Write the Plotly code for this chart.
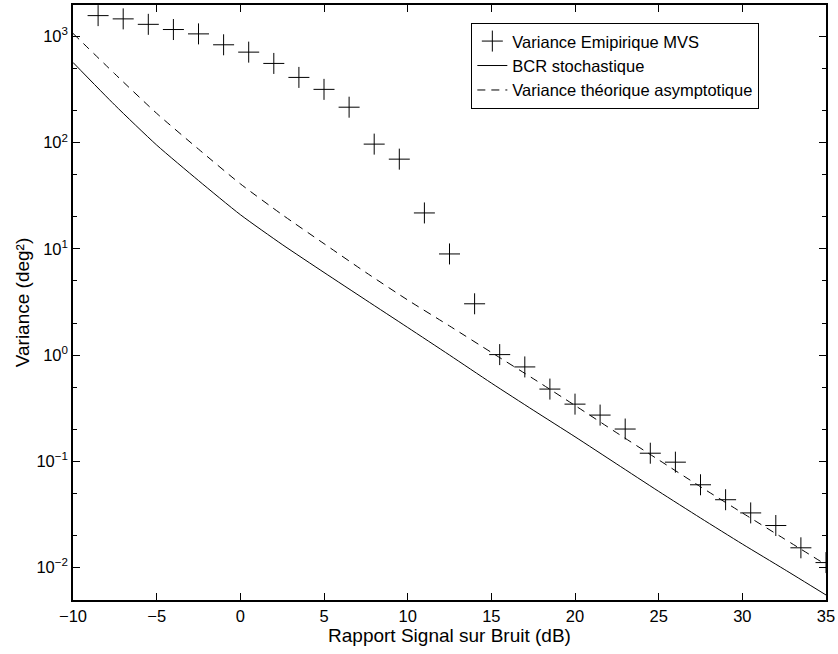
import plotly.graph_objects as go

# Empirical MVS variance (markers)
snr_emp = [-8.5, -7, -5.5, -4, -2.5, -1, 0.5, 2, 3.5, 5, 6.5, 8, 9.5, 11, 12.5,
           14, 15.5, 17, 18.5, 20, 21.5, 23, 24.5, 26, 27.5, 29, 30.5, 32, 33.5, 35]
var_emp = [1574, 1466, 1303, 1164, 1059, 836, 713, 558, 412, 318, 216, 97, 70, 21.8, 8.96,
           3.04, 1.01, 0.773, 0.478, 0.345, 0.272, 0.201, 0.119, 0.098, 0.060, 0.0434,
           0.0326, 0.0248, 0.0153, 0.0111]

# Curves
snr_curve = [-10, -7.5, -5, -2.5, 0, 2.5, 5, 7.5, 10, 12.5, 15, 17.5, 20, 22.5, 25,
             27.5, 30, 32.5, 35]
bcr = [570, 226, 95, 44, 21, 11, 6.0, 3.3, 1.82, 1.0, 0.545, 0.303, 0.17, 0.094, 0.052,
       0.0292, 0.0166, 0.0096, 0.0055]
var_theo = [1070, 445, 189, 87, 41, 21, 11.2, 6.0, 3.3, 1.88, 1.06, 0.60, 0.335, 0.185,
            0.103, 0.0575, 0.0326, 0.0186, 0.0106]

x_ticks = [-10, -5, 0, 5, 10, 15, 20, 25, 30, 35]
x_tick_text = ["\u221210", "\u22125", "0", "5", "10", "15", "20", "25", "30", "35"]
y_ticks = [0.01, 0.1, 1, 10, 100, 1000]
y_tick_text = ["10<sup>\u22122</sup>", "10<sup>\u22121</sup>", "10<sup>0</sup>",
               "10<sup>1</sup>", "10<sup>2</sup>", "10<sup>3</sup>"]

font_family = "Liberation Sans, Arial, Helvetica, sans-serif"

fig = go.Figure()
fig.add_trace(go.Scatter(
    x=snr_emp, y=var_emp, mode="markers", name="Variance Emipirique MVS",
    marker=dict(symbol="cross-thin", size=15, line=dict(color="black", width=1), color="black"),
))
fig.add_trace(go.Scatter(
    x=snr_curve, y=bcr, mode="lines", name="BCR stochastique",
    line=dict(color="black", width=1, shape="spline", smoothing=0.6),
))
fig.add_trace(go.Scatter(
    x=snr_curve, y=var_theo, mode="lines", name="Variance th\u00e9orique asymptotique",
    line=dict(color="black", width=1, dash="8px,6px", shape="spline", smoothing=0.6),
))

fig.update_layout(
    width=838, height=654,
    margin=dict(l=73, r=9, t=3, b=54),
    paper_bgcolor="white", plot_bgcolor="white",
    font=dict(family=font_family, size=17, color="black"),
    showlegend=True,
    legend=dict(
        x=0.529, y=0.970, xanchor="left", yanchor="top",
        bgcolor="white", bordercolor="black", borderwidth=1,
        font=dict(size=16.5), tracegroupgap=0, itemwidth=30,
    ),
    xaxis=dict(
        range=[-10, 35], tickvals=x_ticks, ticktext=x_tick_text,
        ticks="inside", ticklen=7, tickcolor="black", tickwidth=1,
        showline=True, linecolor="black", linewidth=1.5, mirror="ticks",
        showgrid=False, zeroline=False, ticklabeloverflow="allow",
        tickfont=dict(size=16.5),
        title=dict(text="Rapport Signal sur Bruit (dB)", font=dict(size=19), standoff=4),
    ),
    yaxis=dict(
        type="log", range=[-2.307, 3.297], tickvals=y_ticks, ticktext=y_tick_text,
        ticks="inside", ticklen=7, tickcolor="black", tickwidth=1,
        showline=True, linecolor="black", linewidth=1.5, mirror="ticks",
        showgrid=False, zeroline=False,
        tickfont=dict(size=16.5),
        minor=dict(ticks="inside", ticklen=4, tickcolor="black", showgrid=False),
        title=dict(text="Variance (deg\u00b2)", font=dict(size=19), standoff=2),
    ),
)

fig.write_html(
    "out.html",
    config={"displayModeBar": False},
    post_script="document.body.style.margin='0';document.body.style.padding='0';",
)
